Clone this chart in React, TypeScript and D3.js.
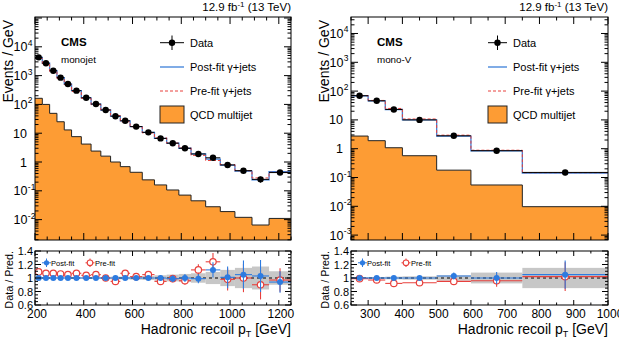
import React from "react";
import * as d3 from "d3";

const FONT = "'Liberation Sans', Arial, Helvetica, sans-serif";

// ---- monojet category ----
const monojetEdges = [200, 230, 260, 290, 320, 350, 390, 430, 470, 510, 550, 590, 640, 690, 740, 790, 840, 900, 960, 1020, 1090, 1160, 1250];
const monojetData = [4300, 2700, 1480, 850, 510, 300, 170, 103, 64, 39, 27, 17, 10.7, 6.6, 4.5, 3.0, 1.9, 1.4, 0.79, 0.5, 0.25, 0.43];
const monojetErr = [0.01, 0.01, 0.01, 0.01, 0.01, 0.015, 0.015, 0.02, 0.02, 0.025, 0.03, 0.03, 0.035, 0.045, 0.05, 0.06, 0.07, 0.1, 0.16, 0.2, 0.23, 0.17];
const monojetPostFit = [4300, 2700, 1480, 850, 510, 300, 170, 103, 64, 39, 27, 17, 10.7, 6.6, 4.55, 3.0, 1.92, 1.25, 0.78, 0.48, 0.24, 0.46];
const monojetPreFit = [3950, 2520, 1380, 800, 486, 280, 163, 98, 64, 41, 25, 16.7, 10.2, 6.9, 4.55, 3.1, 1.7, 1.13, 0.81, 0.5, 0.28, 0.44];
const monojetQcd = [163, 100, 49, 25, 13, 7.6, 4.2, 2.4, 1.6, 1.0, 0.69, 0.44, 0.24, 0.16, 0.107, 0.071, 0.045, 0.028, 0.019, 0.012, 0.0065, 0.011];
const monojetPostRatio = [1, 1, 1, 1, 1, 1, 1, 1, 1, 1, 1, 1, 1, 1.0, 0.99, 1.0, 0.99, 1.12, 1.01, 1.05, 1.03, 0.94];
const monojetPreRatio = [1.09, 1.07, 1.07, 1.06, 1.05, 1.07, 1.04, 1.05, 1.0, 0.95, 1.07, 1.02, 1.05, 0.95, 0.99, 0.96, 1.12, 1.24, 0.98, 1.0, 0.9, 0.97];
const monojetBand = [0.01, 0.01, 0.01, 0.01, 0.01, 0.012, 0.012, 0.015, 0.015, 0.02, 0.02, 0.025, 0.03, 0.04, 0.05, 0.06, 0.07, 0.09, 0.12, 0.15, 0.17, 0.1];
const monojetYTicks = [1e-2, 1e-1, 1, 10, 1e2, 1e3, 1e4];
const monojetXTicks = [200, 400, 600, 800, 1000, 1200];

// ---- mono-V category ----
const monoVEdges = [250, 300, 350, 400, 500, 600, 750, 1000];
const monoVData = [69, 46, 23, 10, 2.8, 0.85, 0.15];
const monoVErr = [0.02, 0.02, 0.03, 0.03, 0.05, 0.09, 0.2];
const monoVPostFit = [69, 46, 23, 10, 2.72, 0.85, 0.143];
const monoVPreFit = [69.7, 47.4, 25, 10.75, 2.95, 0.885, 0.147];
const monoVQcd = [2.75, 1.9, 1.08, 0.57, 0.18, 0.055, 0.0097];
const monoVPostRatio = [1.0, 1.0, 1.0, 1.0, 1.03, 1.0, 1.05];
const monoVPreRatio = [0.99, 0.97, 0.92, 0.93, 0.95, 0.96, 1.02];
const monoVBand = [0.015, 0.015, 0.02, 0.025, 0.04, 0.08, 0.15];
const monoVYTicks = [1e-3, 1e-2, 1e-1, 1, 10, 1e2, 1e3, 1e4];
const monoVXTicks = [300, 400, 500, 600, 700, 800, 900, 1000];

const ratioTicks = [0.6, 0.8, 1, 1.2, 1.4];

const ORANGE = "#fd9c34";
const BLUE = "#3b7fd8";
const RED = "#e8403c";
const PBLUE = "#2d7be0";

const MAIN_TOP = 17;
const MAIN_BOT = 240;
const R_TOP = 251;
const R_BOT = 305;

// log axis label: "1", "10" or 10 with a superscript exponent
function TickLabelLog({ v, x, y }: { v: number; x: number; y: number }) {
  const k = Math.round(Math.log10(v));
  if (k === 0 || k === 1) {
    return (
      <text x={x} y={y + 4.5} textAnchor="end" fontSize={12.5}>
        {k === 0 ? "1" : "10"}
      </text>
    );
  }
  return (
    <g>
      <text x={x + 0.5} y={y + 4.5} textAnchor="end" fontSize={12.5}>10</text>
      <text x={x + 0.8} y={y - 1} fontSize={8.5}>{String(k)}</text>
    </g>
  );
}

interface PanelProps {
  id: string;
  edges: number[];
  data: number[];
  err: number[];
  postFit: number[];
  preFit: number[];
  qcd: number[];
  postRatio: number[];
  preRatio: number[];
  band: number[];
  yTicks: number[];
  xTicks: number[];
  yDomain: [number, number];
  x0: number;
  x1: number;
  minorStep: number;
  label: string;
  legX: number;
  legHalf: number;
}

function Panel(p: PanelProps) {
  const n = p.edges.length - 1;
  const x = d3.scaleLinear().domain([p.edges[0], p.edges[n]]).range([p.x0, p.x1]);
  const y = d3.scaleLog().domain(p.yDomain).range([MAIN_BOT, MAIN_TOP]);
  const r = d3.scaleLinear().domain([0.6, 1.4]).range([R_BOT, R_TOP]);
  const centers = p.edges.slice(0, -1).map((e, i) => (e + p.edges[i + 1]) / 2);

  const pts = (vals: number[]) =>
    [...vals.map((v, i) => [p.edges[i], v] as [number, number]), [p.edges[n], vals[n - 1]] as [number, number]];
  const stepLine = d3
    .line<[number, number]>()
    .x((d) => x(d[0]))
    .y((d) => y(d[1]))
    .curve(d3.curveStepAfter);
  const stepArea = d3
    .area<[number, number]>()
    .x((d) => x(d[0]))
    .y0(MAIN_BOT)
    .y1((d) => y(d[1]))
    .curve(d3.curveStepAfter);

  // ticks
  const xMinor = d3.range(p.edges[0], p.edges[n] + 0.1, p.minorStep);
  const [lo, hi] = p.yDomain;
  const yMajor: number[] = [];
  const yMinor: number[] = [];
  for (let k = Math.floor(Math.log10(lo)); k <= Math.ceil(Math.log10(hi)); k++) {
    for (let m = 1; m <= 9; m++) {
      const v = m * Math.pow(10, k);
      if (v < lo || v > hi) continue;
      (m === 1 ? yMajor : yMinor).push(v);
    }
  }
  const rMinor = d3.range(0.6, 1.4001, 0.05);

  const lg = p.legX;
  const tx = lg + p.legHalf + 6;

  return (
    <g>
      <defs>
        <clipPath id={`clip-main-${p.id}`}>
          <rect x={p.x0} y={MAIN_TOP} width={p.x1 - p.x0} height={MAIN_BOT - MAIN_TOP} />
        </clipPath>
        <clipPath id={`clip-r-${p.id}`}>
          <rect x={p.x0} y={R_TOP} width={p.x1 - p.x0} height={R_BOT - R_TOP} />
        </clipPath>
      </defs>

      {/* lumi label */}
      <text x={p.x1} y={11} textAnchor="end" fontSize={11.5}>
        12.9 fb<tspan fontSize={8} dy={-4.5}>-1</tspan>
        <tspan dy={4.5}> (13 TeV)</tspan>
      </text>

      {/* main panel */}
      <g clipPath={`url(#clip-main-${p.id})`}>
        <path d={stepArea(pts(p.qcd)) || ""} fill={ORANGE} />
        <path d={stepLine(pts(p.qcd)) || ""} fill="none" stroke="#222" strokeWidth={1} />
        <path d={stepLine(pts(p.postFit)) || ""} fill="none" stroke={BLUE} strokeWidth={1.3} />
        <path d={stepLine(pts(p.preFit)) || ""} fill="none" stroke={RED} strokeWidth={1} strokeDasharray="3,2" />
        {p.data.map((v, i) => (
          <g key={i}>
            <line x1={x(p.edges[i])} x2={x(p.edges[i + 1])} y1={y(v)} y2={y(v)} stroke="#000" strokeWidth={1} />
            <line x1={x(centers[i])} x2={x(centers[i])} y1={y(v * (1 - p.err[i]))} y2={y(v * (1 + p.err[i]))} stroke="#000" strokeWidth={1} />
            <circle cx={x(centers[i])} cy={y(v)} r={3.2} fill="#000" />
          </g>
        ))}
      </g>
      <rect x={p.x0} y={MAIN_TOP} width={p.x1 - p.x0} height={MAIN_BOT - MAIN_TOP} fill="none" stroke="#000" strokeWidth={1} />
      {xMinor.map((v) => {
        const major = p.xTicks.includes(v);
        const len = major ? 7 : 3.5;
        return (
          <g key={`mx${v}`} stroke="#000">
            <line x1={x(v)} x2={x(v)} y1={MAIN_BOT} y2={MAIN_BOT - len} />
            <line x1={x(v)} x2={x(v)} y1={MAIN_TOP} y2={MAIN_TOP + len} />
          </g>
        );
      })}
      {[...yMajor, ...yMinor].map((v) => {
        const len = yMajor.includes(v) ? 7 : 3.5;
        return (
          <g key={`my${v}`} stroke="#000">
            <line x1={p.x0} x2={p.x0 + len} y1={y(v)} y2={y(v)} />
            <line x1={p.x1} x2={p.x1 - len} y1={y(v)} y2={y(v)} />
          </g>
        );
      })}
      {p.yTicks.map((v) => (
        <TickLabelLog key={`yl${v}`} v={v} x={p.x0 - 8} y={y(v)} />
      ))}
      <text transform={`translate(${p.x0 - 22.5},20) rotate(-90)`} textAnchor="end" fontSize={14}>
        Events / GeV
      </text>

      {/* CMS labels */}
      <text x={p.x0 + 26} y={46} fontSize={11.5} fontWeight="bold">CMS</text>
      <text x={p.x0 + 26} y={63} fontSize={9.8}>{p.label}</text>

      {/* legend */}
      <line x1={lg - p.legHalf} x2={lg + p.legHalf} y1={42.7} y2={42.7} stroke="#000" />
      <line x1={lg} x2={lg} y1={35.5} y2={50} stroke="#000" />
      <circle cx={lg} cy={42.7} r={3.2} fill="#000" />
      <text x={tx} y={46.7} fontSize={11}>Data</text>
      <line x1={lg - p.legHalf} x2={lg + p.legHalf} y1={67} y2={67} stroke={BLUE} strokeWidth={1.3} />
      <text x={tx} y={71} fontSize={11}>Post-fit γ+jets</text>
      <line x1={lg - p.legHalf} x2={lg + p.legHalf} y1={91} y2={91} stroke={RED} strokeDasharray="3,2" />
      <text x={tx} y={95} fontSize={11}>Pre-fit γ+jets</text>
      <rect x={lg - p.legHalf} y={106} width={p.legHalf * 2} height={17} fill={ORANGE} stroke="#222" />
      <text x={tx} y={119} fontSize={11}>QCD multijet</text>

      {/* ratio panel */}
      <g clipPath={`url(#clip-r-${p.id})`}>
        {p.band.map((b, i) => (
          <rect key={`b${i}`} x={x(p.edges[i])} width={x(p.edges[i + 1]) - x(p.edges[i])} y={r(1 + b)} height={r(1 - b) - r(1 + b)} fill="#bdbdbd" opacity={0.85} />
        ))}
        <line x1={p.x0} x2={p.x1} y1={r(1)} y2={r(1)} stroke="#000" strokeDasharray="3,3" />
        {p.preRatio.map((v, i) => (
          <g key={`pr${i}`} stroke={RED} strokeWidth={1.1}>
            <line x1={x(p.edges[i])} x2={x(p.edges[i + 1])} y1={r(v)} y2={r(v)} />
            <line x1={x(centers[i])} x2={x(centers[i])} y1={r(v * (1 - p.err[i] * 1.05))} y2={r(v * (1 + p.err[i] * 1.05))} />
            <circle cx={x(centers[i])} cy={r(v)} r={3.2} fill="#fff" strokeWidth={1.2} />
          </g>
        ))}
        {p.postRatio.map((v, i) => (
          <g key={`po${i}`} stroke={PBLUE} strokeWidth={1.1}>
            <line x1={x(p.edges[i])} x2={x(p.edges[i + 1])} y1={r(v)} y2={r(v)} />
            <line x1={x(centers[i])} x2={x(centers[i])} y1={r(v * (1 - p.err[i]))} y2={r(v * (1 + p.err[i]))} />
            <circle cx={x(centers[i])} cy={r(v)} r={3} fill={PBLUE} stroke="none" />
          </g>
        ))}
      </g>
      <rect x={p.x0} y={R_TOP} width={p.x1 - p.x0} height={R_BOT - R_TOP} fill="none" stroke="#000" strokeWidth={1} />
      {xMinor.map((v) => {
        const major = p.xTicks.includes(v);
        const len = major ? 5 : 2.5;
        return (
          <g key={`rx${v}`} stroke="#000">
            <line x1={x(v)} x2={x(v)} y1={R_BOT} y2={R_BOT - len} />
            <line x1={x(v)} x2={x(v)} y1={R_TOP} y2={R_TOP + len} />
          </g>
        );
      })}
      {rMinor.map((v) => {
        const major = ratioTicks.some((t) => Math.abs(t - v) < 1e-6);
        const len = major ? 6 : 3;
        return (
          <g key={`ry${v.toFixed(2)}`} stroke="#000">
            <line x1={p.x0} x2={p.x0 + len} y1={r(v)} y2={r(v)} />
            <line x1={p.x1} x2={p.x1 - len} y1={r(v)} y2={r(v)} />
          </g>
        );
      })}
      {ratioTicks.map((v) => (
        <text key={`rl${v}`} x={p.x0 - 2} y={r(v) + 4} textAnchor="end" fontSize={11}>
          {String(v)}
        </text>
      ))}
      {p.xTicks.map((v) => (
        <text key={`xl${v}`} x={x(v) + 2} y={318} textAnchor="middle" fontSize={12}>
          {String(v)}
        </text>
      ))}
      <text transform={`translate(${p.x0 - 22},251) rotate(-90)`} textAnchor="end" fontSize={10.8}>
        Data / Pred.
      </text>
      <text x={p.x1} y={334} textAnchor="end" fontSize={14}>
        Hadronic recoil p<tspan fontSize={9} dy={3}>T</tspan>
        <tspan dy={-3}> [GeV]</tspan>
      </text>

      {/* ratio legend */}
      <g>
        <line x1={p.x0 + 7} x2={p.x0 + 16} y1={262.8} y2={262.8} stroke={PBLUE} />
        <line x1={p.x0 + 11.5} x2={p.x0 + 11.5} y1={258.5} y2={267} stroke={PBLUE} />
        <circle cx={p.x0 + 11.5} cy={262.8} r={2.6} fill={PBLUE} />
        <text x={p.x0 + 16} y={265.5} fontSize={7.5}>Post-fit</text>
        <line x1={p.x0 + 50.5} x2={p.x0 + 59.5} y1={262.8} y2={262.8} stroke={RED} />
        <line x1={p.x0 + 55} x2={p.x0 + 55} y1={258.5} y2={267} stroke={RED} />
        <circle cx={p.x0 + 55} cy={262.8} r={2.8} fill="#fff" stroke={RED} strokeWidth={1.1} />
        <text x={p.x0 + 60} y={265.5} fontSize={7.5}>Pre-fit</text>
      </g>
    </g>
  );
}

export default function App() {
  return (
    <svg
      width={619}
      height={339}
      style={{ position: "absolute", left: 0, top: 0, background: "#fff" }}
      fontFamily={FONT}
    >
      <Panel
        id="mj"
        edges={monojetEdges}
        data={monojetData}
        err={monojetErr}
        postFit={monojetPostFit}
        preFit={monojetPreFit}
        qcd={monojetQcd}
        postRatio={monojetPostRatio}
        preRatio={monojetPreRatio}
        band={monojetBand}
        yTicks={monojetYTicks}
        xTicks={monojetXTicks}
        yDomain={[0.00196, 1.084e5]}
        x0={35}
        x1={291}
        minorStep={50}
        label="monojet"
        legX={172}
        legHalf={12}
      />
      <Panel
        id="mv"
        edges={monoVEdges}
        data={monoVData}
        err={monoVErr}
        postFit={monoVPostFit}
        preFit={monoVPreFit}
        qcd={monoVQcd}
        postRatio={monoVPostRatio}
        preRatio={monoVPreRatio}
        band={monoVBand}
        yTicks={monoVYTicks}
        xTicks={monoVXTicks}
        yDomain={[0.000676, 3.74e4]}
        x0={351}
        x1={608}
        minorStep={50}
        label="mono-V"
        legX={497.5}
        legHalf={9.5}
      />
    </svg>
  );
}
